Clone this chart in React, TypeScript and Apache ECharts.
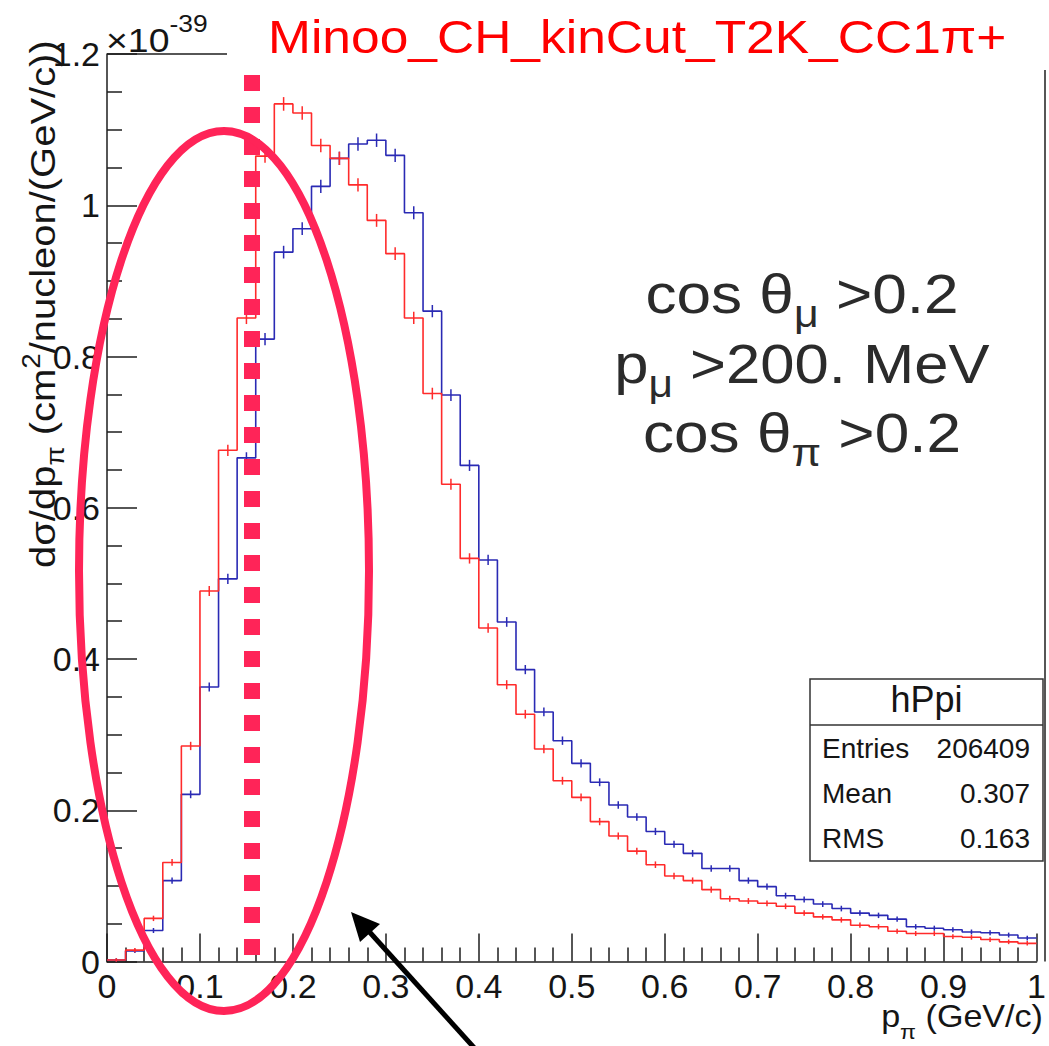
import React, { useEffect, useRef } from 'react';
import * as echarts from 'echarts';

// ---------------- data ----------------
const BIN_WIDTH = 0.02;
// blue histogram (hPpi), dσ/dpπ in units of 1e-39
const blueValues = [
  0.002, 0.014, 0.041, 0.107, 0.221, 0.363, 0.506, 0.666, 0.823, 0.938,
  0.969, 1.025, 1.062, 1.081, 1.086, 1.066, 0.990, 0.860, 0.749, 0.656,
  0.531, 0.449, 0.386, 0.330, 0.292, 0.262, 0.237, 0.207, 0.191, 0.172,
  0.155, 0.143, 0.123, 0.123, 0.107, 0.099, 0.087, 0.082, 0.076, 0.070,
  0.064, 0.061, 0.056, 0.046, 0.044, 0.042, 0.039, 0.038, 0.035, 0.031,
];
// red histogram
const redValues = [
  0.002, 0.015, 0.057, 0.131, 0.285, 0.490, 0.676, 0.851, 1.065, 1.134,
  1.122, 1.079, 1.062, 1.027, 0.980, 0.936, 0.851, 0.751, 0.631, 0.533,
  0.441, 0.366, 0.327, 0.281, 0.239, 0.217, 0.185, 0.166, 0.146, 0.128,
  0.113, 0.107, 0.095, 0.083, 0.080, 0.077, 0.073, 0.064, 0.059, 0.055,
  0.048, 0.046, 0.040, 0.037, 0.037, 0.033, 0.032, 0.029, 0.026, 0.024,
];
const binLow = blueValues.map((_, i) => +(i * BIN_WIDTH).toFixed(2));
const X_MAX = 1;
const Y_MAX = 1.2;

const titleText = 'Minoo_CH_kinCut_T2K_CC1π+';
const statsName = 'hPpi';
const statsRows: [string, string][] = [
  ['Entries', '206409'],
  ['Mean', '0.307'],
  ['RMS', '0.163'],
];

// ---------------- styling helpers ----------------
const FONT = '"Liberation Sans", Arial, Helvetica, sans-serif';
const BLUE = '#2a2ab4';
const RED = '#ff2b2b';
const PINK = '#ff2458';
const AXIS = '#1e1e1e';

let measureCtx: CanvasRenderingContext2D | null = null;
function measure(text: string, size: number) {
  if (!measureCtx) measureCtx = document.createElement('canvas').getContext('2d');
  measureCtx!.font = `${size}px ${FONT}`;
  return measureCtx!.measureText(text).width;
}

type Piece = { t: string; s: number; dy?: number };
function textLine(
  pieces: Piece[],
  o: { x: number; y: number; align: 'left' | 'center' | 'right'; color: string; scaleX?: number; scaleY?: number; rotation?: number }
) {
  const ws = pieces.map((p) => measure(p.t, p.s));
  const total = ws.reduce((a, b) => a + b, 0);
  let cx = o.align === 'left' ? 0 : o.align === 'center' ? -total / 2 : -total;
  const children = pieces.map((p, i) => {
    const el = {
      type: 'text',
      x: cx,
      y: (p.dy ?? 0) - 0.35 * p.s,
      z: 80,
      silent: true,
      style: {
        text: p.t,
        font: `${p.s}px ${FONT}`,
        fill: o.color,
        align: 'left',
        textAlign: 'left',
        verticalAlign: 'middle',
        textVerticalAlign: 'middle',
      },
    };
    cx += ws[i];
    return el;
  });
  return {
    type: 'group',
    x: o.x,
    y: o.y,
    scaleX: o.scaleX ?? 1,
    scaleY: o.scaleY ?? 1,
    rotation: o.rotation ?? 0,
    z: 80,
    children,
  };
}

function fmt(v: number) {
  return String(Math.round(v * 100) / 100);
}

function stepData(vals: number[]) {
  const d: number[][] = vals.map((v, i) => [binLow[i], v]);
  d.push([X_MAX, vals[vals.length - 1]]);
  return d;
}

function errorBars(color: string) {
  return (params: any, api: any) => {
    const x = api.value(0);
    const v = api.value(1);
    const p = api.coord([x, v]);
    const h = 1.5 + 5 * Math.sqrt(Math.max(v, 0));
    return {
      type: 'line',
      shape: { x1: p[0], y1: p[1] - h, x2: p[0], y2: p[1] + h },
      style: { stroke: color, lineWidth: 1.5 },
    };
  };
}

export default function App() {
  const ref = useRef<HTMLDivElement>(null);
  useEffect(() => {
    document.body.style.margin = '0';
    const chart = echarts.init(ref.current!, null, { renderer: 'svg' });
    const axisCommon = {
      type: 'value' as const,
      splitLine: { show: false },
      axisLine: { show: true, onZero: false, lineStyle: { color: AXIS, width: 1.5 } },
      axisLabel: {
        fontSize: 34,
        color: '#151515',
        fontFamily: FONT,
        margin: 7,
        showMinLabel: true,
        showMaxLabel: true,
        formatter: fmt,
      },
    };
    const graphics: any[] = [
      // partial top frame and right frame
      { type: 'line', z: 40, shape: { x1: 107, y1: 54, x2: 227, y2: 54 }, style: { stroke: AXIS, lineWidth: 1.5 } },
      { type: 'line', z: 40, shape: { x1: 1045, y1: 70, x2: 1045, y2: 961.5 }, style: { stroke: AXIS, lineWidth: 1.5 } },
      // title
      textLine([{ t: titleText, s: 46 }], { x: 268, y: 53, align: 'left', color: '#ff0000', scaleX: 1.12 }),
      // exponent
      textLine(
        [
          { t: '×10', s: 34 },
          { t: '-39', s: 24, dy: -20 },
        ],
        { x: 106, y: 52, align: 'left', color: '#151515', scaleX: 1.1 }
      ),
      // y axis title (rotated)
      textLine(
        [
          { t: 'dσ/dp', s: 36 },
          { t: 'π', s: 25, dy: 9 },
          { t: ' (cm', s: 36 },
          { t: '2', s: 25, dy: -15 },
          { t: '/nucleon/(GeV/c))', s: 36 },
        ],
        { x: 55, y: 568, align: 'left', color: '#151515', rotation: Math.PI / 2, scaleX: 1.11 }
      ),
      // x axis title
      textLine(
        [
          { t: 'p', s: 31 },
          { t: 'π', s: 21, dy: 12 },
          { t: ' (GeV/c)', s: 31 },
        ],
        { x: 1043, y: 1027, align: 'right', color: '#151515', scaleX: 1.1 }
      ),
      // cut description
      textLine(
        [
          { t: 'cos θ', s: 55 },
          { t: 'μ', s: 38, dy: 14 },
          { t: ' >0.2', s: 55 },
        ],
        { x: 802, y: 313, align: 'center', color: '#2b2b2b', scaleX: 1.13 }
      ),
      textLine(
        [
          { t: 'p', s: 55 },
          { t: 'μ', s: 38, dy: 14 },
          { t: ' >200. MeV', s: 55 },
        ],
        { x: 802, y: 383, align: 'center', color: '#2b2b2b', scaleX: 1.12 }
      ),
      textLine(
        [
          { t: 'cos θ', s: 55 },
          { t: 'π', s: 38, dy: 14 },
          { t: ' >0.2', s: 55 },
        ],
        { x: 802, y: 452, align: 'center', color: '#2b2b2b', scaleX: 1.13 }
      ),
      // stats box
      { type: 'rect', z: 45, shape: { x: 810, y: 679, width: 233, height: 182 }, style: { fill: '#ffffff', stroke: '#333', lineWidth: 1.5 } },
      { type: 'line', z: 46, shape: { x1: 810, y1: 725, x2: 1043, y2: 725 }, style: { stroke: '#333', lineWidth: 1.5 } },
      textLine([{ t: statsName, s: 36 }], { x: 926.5, y: 712, align: 'center', color: '#151515' }),
      ...statsRows.map((r, i) => textLine([{ t: r[0], s: 28 }], { x: 822, y: 758 + i * 45, align: 'left', color: '#151515' })),
      ...statsRows.map((r, i) => textLine([{ t: r[1], s: 28 }], { x: 1030, y: 758 + i * 45, align: 'right', color: '#151515' })),
      // annotations
      { type: 'line', z: 60, shape: { x1: 252, y1: 75, x2: 252, y2: 955 }, style: { stroke: PINK, lineWidth: 16, lineDash: [16, 16] } },
      { type: 'ellipse', z: 60, shape: { cx: 224, cy: 571, rx: 145, ry: 440 }, style: { fill: 'none', stroke: PINK, lineWidth: 8 } },
      { type: 'line', z: 60, shape: { x1: 478, y1: 1052, x2: 365, y2: 927 }, style: { stroke: '#000', lineWidth: 5 } },
      { type: 'polygon', z: 60, shape: { points: [[351, 912], [360, 942], [380, 924]] }, style: { fill: '#000' } },
    ];

    chart.setOption({
      animation: false,
      backgroundColor: '#ffffff',
      grid: { left: 107, right: 4, top: 54, bottom: 84.5, containLabel: false },
      xAxis: {
        ...axisCommon,
        min: 0,
        max: X_MAX,
        interval: 0.1,
        axisTick: { show: true, inside: true, length: 28, lineStyle: { color: AXIS, width: 1.5 } },
        minorTick: { show: true, splitNumber: 5, length: 14, lineStyle: { color: AXIS, width: 1.5 } },
      },
      yAxis: {
        ...axisCommon,
        min: 0,
        max: Y_MAX,
        interval: 0.2,
        axisTick: { show: true, inside: true, length: 30, lineStyle: { color: AXIS, width: 1.5 } },
        minorTick: { show: true, splitNumber: 4, length: 15, lineStyle: { color: AXIS, width: 1.5 } },
      },
      series: [
        {
          type: 'line',
          step: 'end',
          data: stepData(blueValues),
          showSymbol: false,
          silent: true,
          lineStyle: { color: BLUE, width: 1.6 },
          z: 3,
        },
        {
          type: 'custom',
          renderItem: errorBars(BLUE),
          data: blueValues.map((v, i) => [binLow[i] + BIN_WIDTH / 2, v]),
          silent: true,
          z: 4,
        },
        {
          type: 'line',
          step: 'end',
          data: stepData(redValues),
          showSymbol: false,
          silent: true,
          lineStyle: { color: RED, width: 1.6 },
          z: 5,
        },
        {
          type: 'custom',
          renderItem: errorBars(RED),
          data: redValues.map((v, i) => [binLow[i] + BIN_WIDTH / 2, v]),
          silent: true,
          z: 6,
        },
      ],
      graphic: graphics,
    });
    return () => chart.dispose();
  }, []);
  return <div ref={ref} style={{ width: 1049, height: 1046 }} />;
}
